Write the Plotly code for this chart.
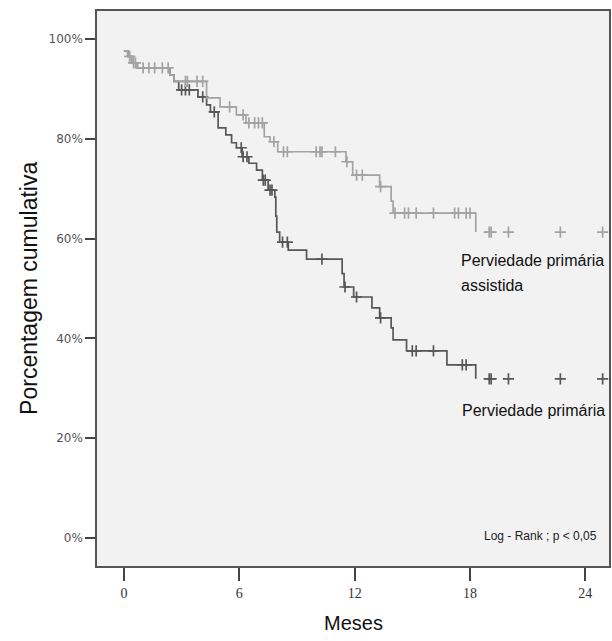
import plotly.graph_objects as go

# ---- Data ----
# Perviedade primária assistida (light gray)
assist_times = [0, 0.2, 0.4, 0.7, 2.4, 2.6, 4.3, 5.0, 5.85, 6.35, 7.3, 7.6, 8.0,
                11.55, 11.9, 13.3, 13.9, 14.0, 18.3]
assist_surv = [97.6, 96.5, 95.2, 94.2, 92.8, 91.5, 88.2, 86.4, 84.8, 83.2, 80.4, 79.4, 77.4,
               75.4, 72.7, 70.4, 67.5, 65.1, 61.3]
assist_censor = [0.3, 0.5, 0.6, 1.0, 1.3, 1.6, 2.0, 2.3, 3.2, 3.3, 3.8, 4.1, 5.5, 6.2, 6.5,
                 6.8, 7.0, 7.2, 7.8, 8.3, 8.5, 10.0, 10.2, 10.3, 11.0, 11.6, 12.1, 12.4,
                 13.35, 14.1, 14.6, 14.8, 15.2, 16.1, 17.2, 17.4, 17.8, 18.0,
                 19.0, 19.1, 20.0, 22.7, 24.9]

# Perviedade primária (dark gray)
prim_times = [0, 0.2, 0.4, 0.7, 2.4, 2.6, 2.85, 3.85, 4.3, 4.5, 4.9, 5.3, 5.6, 5.85, 6.15,
              6.5, 6.9, 7.2, 7.5, 7.85, 7.9, 7.95, 8.1, 8.55, 9.5, 11.35, 11.45, 11.95,
              12.9, 13.3, 13.9, 14.0, 14.7, 16.8, 18.3]
prim_surv = [97.6, 96.5, 95.2, 94.2, 92.8, 91.5, 89.8, 88.4, 86.8, 85.4, 82.2, 80.8, 79.2,
             78.2, 76.4, 75.1, 73.7, 71.7, 69.7, 68.3, 64.5, 61.3, 59.3, 57.7, 55.9, 53.0,
             50.3, 48.3, 46.1, 44.1, 42.1, 39.7, 37.5, 34.7, 31.9]
prim_censor = [3.0, 3.2, 3.4, 4.1, 4.7, 6.1, 6.2, 6.4, 7.25, 7.35, 7.6, 7.7, 8.25,
               8.5, 10.3, 11.5, 12.1, 13.35, 15.0, 15.2, 16.1, 17.6, 17.8,
               19.0, 19.1, 20.0, 22.7, 24.9]

x_ticks = [0, 6, 12, 18, 24]
y_ticks = [0, 20, 40, 60, 80, 100]
y_tick_labels = ["0%", "20%", "40%", "60%", "80%", "100%"]

LIGHT = "#a3a3a3"
DARK = "#575757"


def step_value(times, surv, t):
    v = surv[0]
    for ti, si in zip(times, surv):
        if ti <= t:
            v = si
    return v


fig = go.Figure()

for times, surv, cens, col in [(prim_times, prim_surv, prim_censor, DARK),
                               (assist_times, assist_surv, assist_censor, LIGHT)]:
    fig.add_trace(go.Scatter(x=times, y=surv, mode="lines", line=dict(color=col, width=1.7, shape="hv"),
                             showlegend=False, hoverinfo="skip"))
    fig.add_trace(go.Scatter(x=cens, y=[step_value(times, surv, c) for c in cens], mode="markers",
                             marker=dict(symbol="cross-thin", size=8, line=dict(color=col, width=1.7)),
                             showlegend=False, hoverinfo="skip"))

ann_font = dict(family="Liberation Sans, Arial, sans-serif", size=16, color="#111")
fig.add_annotation(x=17.45, y=55.7, xref="x", yref="y", text="Perviedade primária",
                   showarrow=False, xanchor="left", yanchor="middle", align="left", font=ann_font)
fig.add_annotation(x=17.45, y=50.6, xref="x", yref="y", text="assistida",
                   showarrow=False, xanchor="left", yanchor="middle", align="left", font=ann_font)
fig.add_annotation(x=17.5, y=25.6, xref="x", yref="y", text="Perviedade primária",
                   showarrow=False, xanchor="left", yanchor="middle", align="left", font=ann_font)
fig.add_annotation(x=24.7, y=0.4, xref="x", yref="y", text="Log - Rank ; p < 0,05",
                   showarrow=False, xanchor="right", yanchor="middle",
                   font=dict(family="Liberation Sans, Arial, sans-serif", size=12, color="#222"))

# axis titles
fig.add_annotation(x=-0.134, y=0.5, xref="paper", yref="paper", text="Porcentagem cumulativa",
                   textangle=-90, showarrow=False, xanchor="center", yanchor="middle",
                   font=dict(family="Liberation Sans, Arial, sans-serif", size=23, color="#111"))
fig.add_annotation(x=0.5, y=-0.103, xref="paper", yref="paper", text="Meses",
                   showarrow=False, xanchor="center", yanchor="middle",
                   font=dict(family="Liberation Sans, Arial, sans-serif", size=20, color="#111"))

fig.update_xaxes(range=[-1.4, 25.23], tickvals=x_ticks, ticktext=[str(v) for v in x_ticks],
                 ticks="outside", ticklen=13, tickwidth=1.8, tickcolor="#444",
                 showline=True, linecolor="#555", linewidth=1.5, mirror=True,
                 showgrid=False, zeroline=False,
                 tickfont=dict(family="Liberation Serif, Times New Roman, serif", size=14, color="#333"))
fig.update_yaxes(range=[-5.6, 105.6], tickvals=y_ticks, ticktext=y_tick_labels,
                 ticks="outside", ticklen=10, tickwidth=1.8, tickcolor="#444",
                 showline=True, linecolor="#555", linewidth=1.5, mirror=True,
                 showgrid=False, zeroline=False,
                 tickfont=dict(family="DejaVu Sans, Verdana, sans-serif", size=12, color="#555"))

fig.update_layout(width=612, height=641, margin=dict(l=97, r=1, t=11, b=75),
                  plot_bgcolor="#f2f2f2", paper_bgcolor="white")

fig.write_html("out.html", config={"displayModeBar": False},
               post_script="document.body.style.margin='0';document.body.style.overflow='hidden';")
